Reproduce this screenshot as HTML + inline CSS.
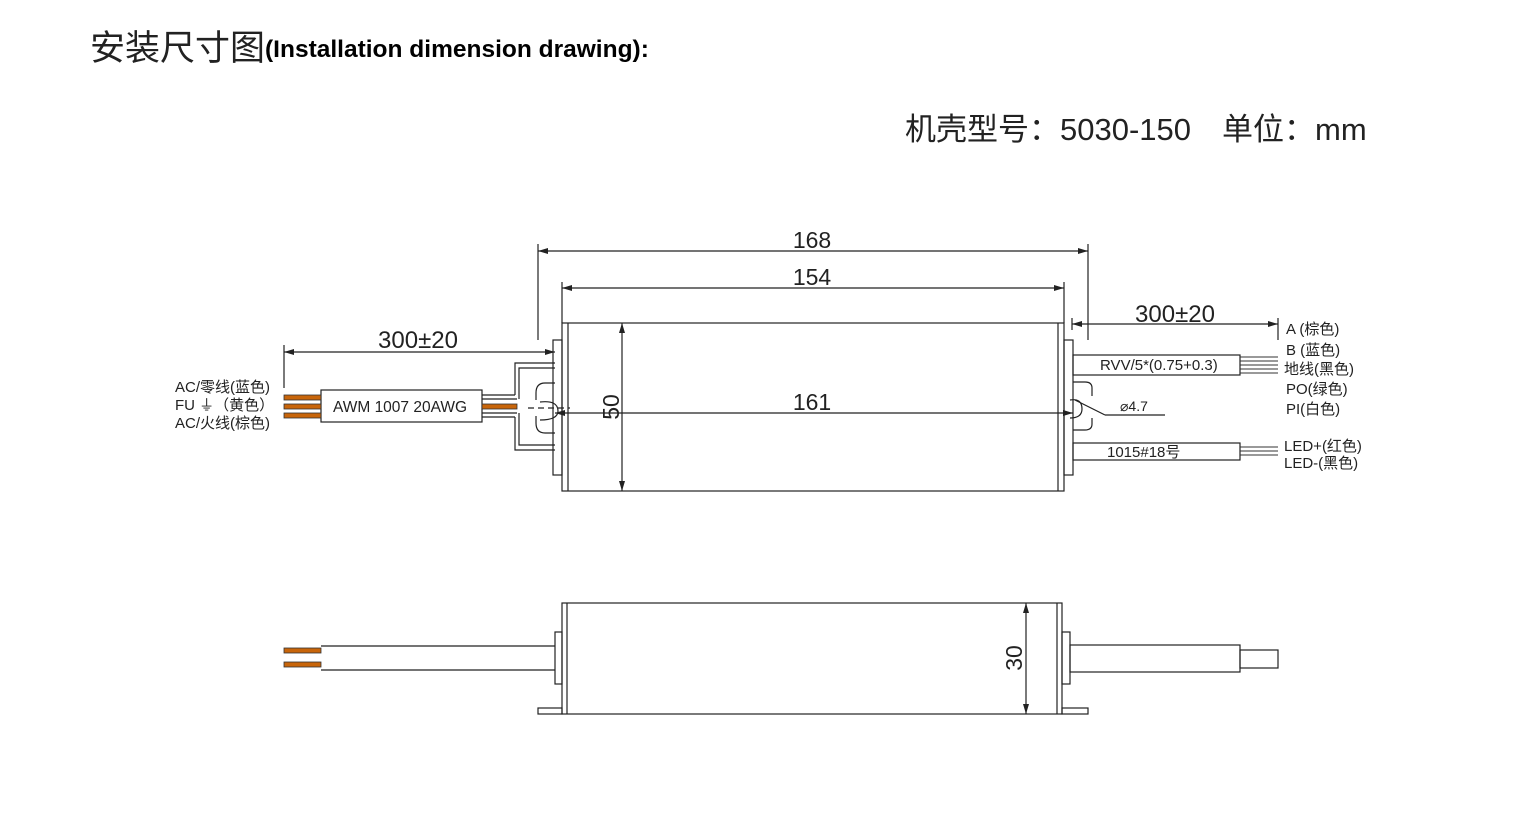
<!DOCTYPE html>
<html><head><meta charset="utf-8"><style>
html,body{margin:0;padding:0;background:#fff;width:1540px;height:830px;overflow:hidden}
svg{display:block}
text{font-family:"Liberation Sans","Noto Sans CJK SC",sans-serif;fill:#222}
</style></head><body>
<svg width="1540" height="830" viewBox="0 0 1540 830" xmlns="http://www.w3.org/2000/svg">
<defs>
<marker id="a" viewBox="0 0 10 6" refX="10" refY="3" markerWidth="10" markerHeight="6" orient="auto-start-reverse" markerUnits="userSpaceOnUse"><path d="M0,0L10,3L0,6z" fill="#222"/></marker>
</defs>
<text x="90" y="60" font-size="35" style="font-family:'Noto Sans CJK SC',sans-serif" fill="#000">安装尺寸图<tspan font-size="24.5" font-weight="bold" style="font-family:'Liberation Sans',sans-serif" dy="-3" fill="#000">(Installation dimension drawing):</tspan></text>
<text x="905" y="140" font-size="31" fill="#222">机壳型号：5030-150　单位：mm</text>

<g stroke="#222" fill="none" stroke-width="1.2">
<rect x="562" y="323" width="502" height="168"/>
<line x1="568" y1="323" x2="568" y2="491"/>
<line x1="1058" y1="323" x2="1058" y2="491"/>
<rect x="553" y="340" width="9" height="135"/>
<rect x="1064" y="340" width="9" height="135"/>
<line x1="538" y1="244" x2="538" y2="340"/><line x1="1088" y1="244" x2="1088" y2="340"/>
<line x1="538" y1="251" x2="1088" y2="251" marker-start="url(#a)" marker-end="url(#a)"/>
<line x1="562" y1="282" x2="562" y2="323"/><line x1="1064" y1="282" x2="1064" y2="323"/>
<line x1="562" y1="288" x2="1064" y2="288" marker-start="url(#a)" marker-end="url(#a)"/>
<line x1="622" y1="323" x2="622" y2="491" marker-start="url(#a)" marker-end="url(#a)"/>
<line x1="555" y1="413" x2="1073" y2="413" marker-start="url(#a)" marker-end="url(#a)"/>
<line x1="284" y1="345" x2="284" y2="388"/>
<line x1="284" y1="352" x2="555" y2="352" marker-start="url(#a)" marker-end="url(#a)"/>
<rect x="321" y="390" width="161" height="32"/>
<line x1="482" y1="395" x2="515" y2="395"/><line x1="482" y1="399" x2="517" y2="399"/>
<line x1="482" y1="413" x2="517" y2="413"/><line x1="482" y1="417" x2="515" y2="417"/>
<path d="M515,395V363H555M519,399V368H555M515,417V450H555M519,413V445H555"/>
<path d="M555,383H545Q536,383 536,393V400M555,433H545Q536,433 536,423V416"/>
<path d="M540,402Q558,400 558,411Q558,420 540,420" />
<line x1="528" y1="408" x2="570" y2="408" stroke-dasharray="6,4"/>
<line x1="1072" y1="318" x2="1072" y2="330"/>
<line x1="1278" y1="318" x2="1278" y2="340"/>
<line x1="1072" y1="324" x2="1278" y2="324" marker-start="url(#a)" marker-end="url(#a)"/>
<rect x="1073" y="355" width="167" height="20"/>
<rect x="1073" y="443" width="167" height="17"/>
<path d="M1073,382H1085Q1092,382 1092,388V396M1073,430H1085Q1092,430 1092,424V418"/>
<path d="M1070,400Q1082,398 1082,409Q1082,418 1070,418"/>
<line x1="1075" y1="400" x2="1105" y2="415"/><line x1="1105" y1="415" x2="1165" y2="415"/>
</g>
<g stroke="#333" stroke-width="1">
<line x1="1240" y1="357" x2="1278" y2="357"/><line x1="1240" y1="361" x2="1278" y2="361"/><line x1="1240" y1="365" x2="1278" y2="365"/><line x1="1240" y1="369" x2="1278" y2="369"/><line x1="1240" y1="373" x2="1278" y2="373"/>
<line x1="1240" y1="447" x2="1278" y2="447"/><line x1="1240" y1="451" x2="1278" y2="451"/><line x1="1240" y1="455" x2="1278" y2="455"/>
</g>
<g fill="#c8650a" stroke="#333" stroke-width="0.8">
<rect x="284" y="395" width="37" height="5"/><rect x="284" y="404" width="37" height="5"/><rect x="284" y="413" width="37" height="5"/>
<rect x="482" y="404" width="35" height="5"/>
<rect x="284" y="648" width="37" height="5"/><rect x="284" y="662" width="37" height="5"/>
</g>
<text x="812" y="248" font-size="23" text-anchor="middle">168</text>
<text x="812" y="285" font-size="23" text-anchor="middle">154</text>
<text x="812" y="410" font-size="23" text-anchor="middle">161</text>
<text x="0" y="0" font-size="23" text-anchor="middle" transform="translate(619,407) rotate(-90)">50</text>
<text x="418" y="348" font-size="24" text-anchor="middle">300±20</text>
<text x="1175" y="322" font-size="24" text-anchor="middle">300±20</text>
<text x="400" y="412" font-size="15.5" text-anchor="middle">AWM 1007 20AWG</text>
<g font-size="15">
<text x="175" y="392">AC/零线(蓝色)</text>
<text x="175" y="410">FU ⏚（黄色）</text>
<text x="175" y="428">AC/火线(棕色)</text>
<text x="1100" y="370" font-size="15">RVV/5*(0.75+0.3)</text>
<text x="1107" y="457" font-size="15">1015#18号</text>
<text x="1120" y="411" font-size="14">⌀4.7</text>
<text x="1286" y="334">A (棕色)</text>
<text x="1286" y="355">B (蓝色)</text>
<text x="1284" y="374">地线(黑色)</text>
<text x="1286" y="394">PO(绿色)</text>
<text x="1286" y="414">PI(白色)</text>
<text x="1284" y="451">LED+(红色)</text>
<text x="1284" y="468">LED-(黑色)</text>
</g>
<g stroke="#222" fill="none" stroke-width="1.2">
<rect x="562" y="603" width="500" height="111"/>
<line x1="567" y1="603" x2="567" y2="714"/><line x1="1057" y1="603" x2="1057" y2="714"/>
<rect x="538" y="708" width="24" height="6"/><rect x="1062" y="708" width="26" height="6"/>
<rect x="555" y="632" width="7" height="52"/><rect x="1062" y="632" width="8" height="52"/>
<line x1="321" y1="646" x2="555" y2="646"/><line x1="321" y1="670" x2="555" y2="670"/>
<rect x="1070" y="645" width="170" height="27"/>
<rect x="1240" y="650" width="38" height="18"/>
<line x1="1026" y1="603" x2="1026" y2="714" marker-start="url(#a)" marker-end="url(#a)"/>
</g>
<text x="0" y="0" font-size="23" text-anchor="middle" transform="translate(1022,658) rotate(-90)">30</text>
</svg>
</body></html>
